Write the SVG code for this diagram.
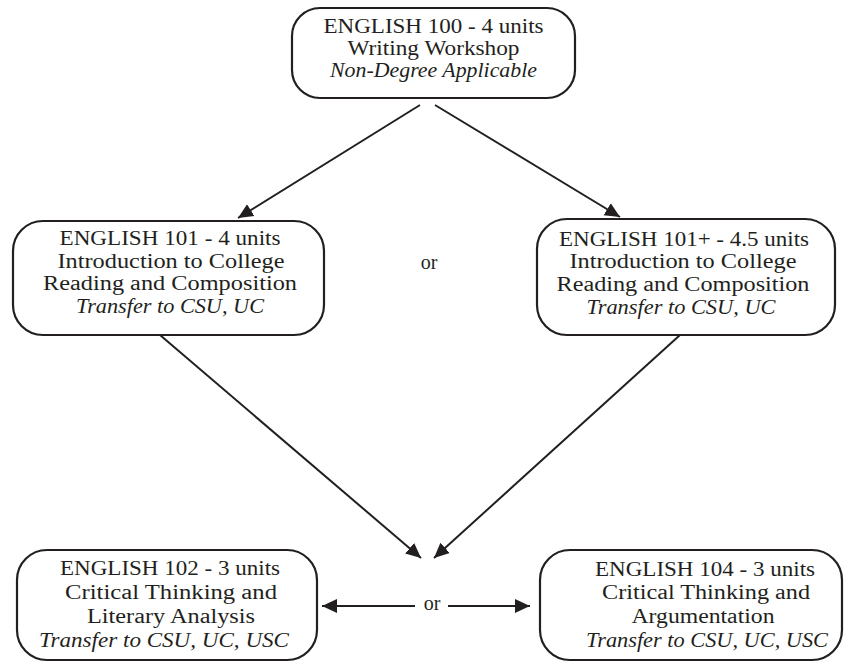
<svg xmlns="http://www.w3.org/2000/svg" width="845" height="662" viewBox="0 0 845 662">
<style>
.box{fill:#fff;stroke:#231f20;stroke-width:2.2}
.t{font-family:"Liberation Serif","Times New Roman",serif;font-size:20px;fill:#231f20;text-anchor:middle}
.i{font-style:italic}
.c{stroke:#231f20;stroke-width:2;fill:none}
</style>
<defs>
<marker id="ah" markerUnits="userSpaceOnUse" markerWidth="16" markerHeight="16" refX="15" refY="7" orient="auto-start-reverse" viewBox="0 0 16 14">
<path d="M0,0 L15,7 L0,14 z" fill="#231f20"/>
</marker>
</defs>
<g id="connectors">
<line class="c" x1="420" y1="105" x2="238" y2="218" marker-end="url(#ah)"/>
<line class="c" x1="435" y1="105" x2="620" y2="217" marker-end="url(#ah)"/>
<line class="c" x1="160" y1="335" x2="421" y2="558" marker-end="url(#ah)"/>
<line class="c" x1="680" y1="335" x2="434" y2="558" marker-end="url(#ah)"/>
<line class="c" x1="415" y1="606" x2="322" y2="606" marker-end="url(#ah)"/>
<line class="c" x1="448" y1="606" x2="530" y2="606" marker-end="url(#ah)"/>
</g>
<g id="eng100">
<rect class="box" x="292" y="8" width="283" height="90" rx="28"/>
<text class="t" x="433.5" y="33" textLength="220" lengthAdjust="spacingAndGlyphs">ENGLISH 100 - 4 units</text>
<text class="t" x="433.5" y="55" textLength="172" lengthAdjust="spacingAndGlyphs">Writing Workshop</text>
<text class="t i" x="433.5" y="77" textLength="207" lengthAdjust="spacingAndGlyphs">Non-Degree Applicable</text>
</g>
<g id="eng101">
<rect class="box" x="13" y="221" width="311" height="114" rx="30"/>
<text class="t" x="170" y="245" textLength="221" lengthAdjust="spacingAndGlyphs">ENGLISH 101 - 4 units</text>
<text class="t" x="171" y="268" textLength="227" lengthAdjust="spacingAndGlyphs">Introduction to College</text>
<text class="t" x="170" y="290" textLength="254" lengthAdjust="spacingAndGlyphs">Reading and Composition</text>
<text class="t i" x="170" y="313" textLength="188" lengthAdjust="spacingAndGlyphs">Transfer to CSU, UC</text>
</g>
<g id="or-middle">
<text class="t" x="429" y="269">or</text>
</g>
<g id="eng101plus">
<rect class="box" x="537" y="219" width="298" height="116" rx="30"/>
<text class="t" x="684" y="246" textLength="250" lengthAdjust="spacingAndGlyphs">ENGLISH 101+ - 4.5 units</text>
<text class="t" x="683" y="268" textLength="227" lengthAdjust="spacingAndGlyphs">Introduction to College</text>
<text class="t" x="683" y="291" textLength="253" lengthAdjust="spacingAndGlyphs">Reading and Composition</text>
<text class="t i" x="681" y="314" textLength="189" lengthAdjust="spacingAndGlyphs">Transfer to CSU, UC</text>
</g>
<g id="eng102">
<rect class="box" x="17" y="550" width="300" height="110" rx="30"/>
<text class="t" x="170" y="575" textLength="220" lengthAdjust="spacingAndGlyphs">ENGLISH 102 - 3 units</text>
<text class="t" x="171" y="599" textLength="212" lengthAdjust="spacingAndGlyphs">Critical Thinking and</text>
<text class="t" x="171" y="623" textLength="168" lengthAdjust="spacingAndGlyphs">Literary Analysis</text>
<text class="t i" x="164" y="647" textLength="250" lengthAdjust="spacingAndGlyphs">Transfer to CSU, UC, USC</text>
</g>
<g id="or-bottom">
<text class="t" x="432" y="610">or</text>
</g>
<g id="eng104">
<rect class="box" x="540" y="550" width="302" height="110" rx="30"/>
<text class="t" x="705" y="576" textLength="220" lengthAdjust="spacingAndGlyphs">ENGLISH 104 - 3 units</text>
<text class="t" x="706" y="599" textLength="208" lengthAdjust="spacingAndGlyphs">Critical Thinking and</text>
<text class="t" x="703" y="623" textLength="143" lengthAdjust="spacingAndGlyphs">Argumentation</text>
<text class="t i" x="707" y="647" textLength="242" lengthAdjust="spacingAndGlyphs">Transfer to CSU, UC, USC</text>
</g>
</svg>
